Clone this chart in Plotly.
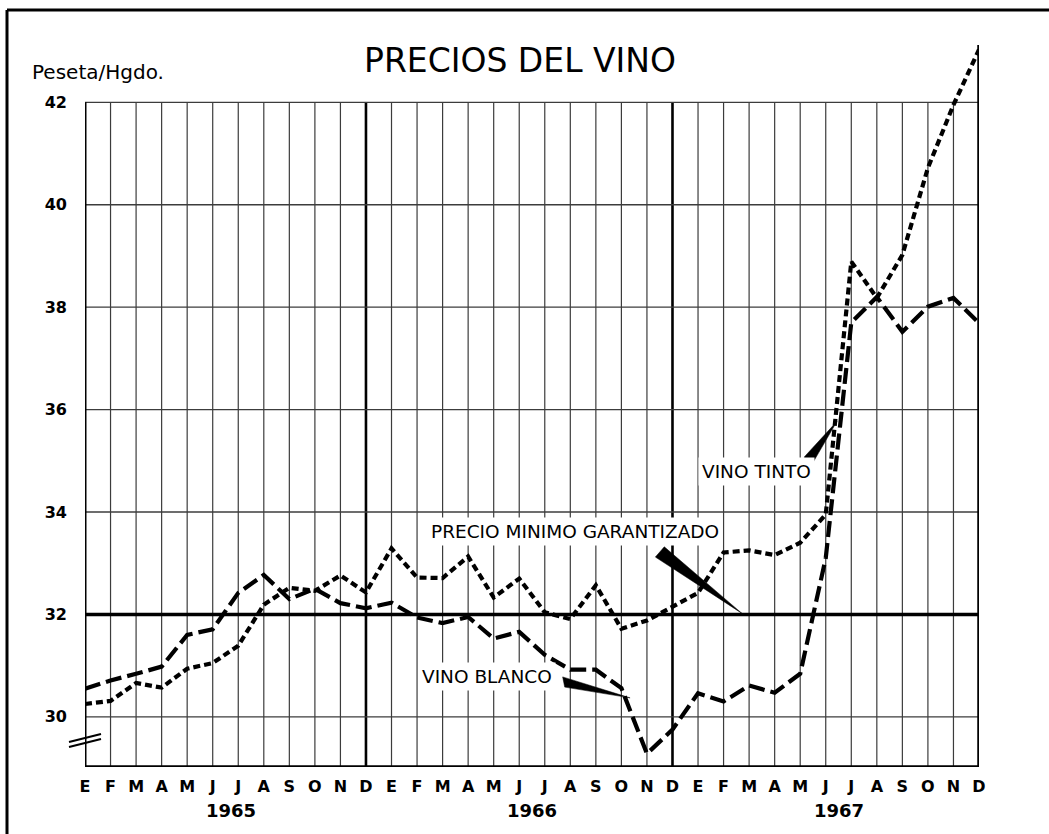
import plotly.graph_objects as go

# ---------------- data ----------------
meses = ["E", "F", "M", "A", "M", "J", "J", "A", "S", "O", "N", "D"] * 3
anios = ["1965", "1966", "1967"]
anio_pos = [5.7, 17.5, 29.5]

vino_blanco = [30.55, 30.71, 30.84, 30.98, 31.60, 31.71, 32.42, 32.77, 32.30, 32.50, 32.22, 32.12,
               32.23, 31.94, 31.83, 31.95, 31.53, 31.66, 31.21, 30.92, 30.92, 30.56, 29.28, 29.75,
               30.46, 30.30, 30.61, 30.47, 30.84, 33.10, 37.70, 38.20, 37.52, 38.01, 38.18, 37.69]
vino_tinto = [30.25, 30.31, 30.66, 30.57, 30.94, 31.05, 31.39, 32.19, 32.52, 32.46, 32.76, 32.43,
              33.29, 32.72, 32.71, 33.13, 32.33, 32.70, 32.04, 31.91, 32.57, 31.72, 31.88, 32.16,
              32.42, 33.21, 33.25, 33.16, 33.40, 33.95, 38.89, 38.18, 39.02, 40.72, 41.95, 43.03]
precio_minimo = 32.0
y_ticks = [30, 32, 34, 36, 38, 40, 42]

# ---------------- layout geometry ----------------
W, H = 1049, 834
L, R, T, B = 85, 70, 45, 67
PW, PH = W - L - R, H - T - B
YMIN, YMAX = 29.02, 43.12
XMAX = len(meses) - 1
FONT = "DejaVu Sans"


def px(xp):
    return (xp - L) / PW


def py(yp):
    return (H - B - yp) / PH


x = list(range(len(meses)))

fig = go.Figure()
fig.add_trace(go.Scatter(x=[0, XMAX], y=[precio_minimo, precio_minimo], mode="lines",
                         line=dict(color="black", width=3.5), cliponaxis=False,
                         name="Precio mínimo garantizado", showlegend=False))
fig.add_trace(go.Scatter(x=x, y=vino_blanco, mode="lines",
                         line=dict(color="black", width=4.2, dash="16px,6px"), cliponaxis=False,
                         name="Vino blanco", showlegend=False))
fig.add_trace(go.Scatter(x=x, y=vino_tinto, mode="lines",
                         line=dict(color="black", width=4.2, dash="7px,4px"), cliponaxis=False,
                         name="Vino tinto", showlegend=False))

shapes = []
grid_col = "#3c3c3c"
for i in range(1, XMAX):
    thick = meses[i] == "D"
    shapes.append(dict(type="line", xref="x", yref="y", x0=i, x1=i, y0=YMIN, y1=max(y_ticks),
                       line=dict(color="black" if thick else grid_col, width=2.6 if thick else 1.2),
                       layer="below"))
for v in y_ticks:
    if v == precio_minimo:
        continue
    shapes.append(dict(type="line", xref="x", yref="y", x0=0, x1=XMAX, y0=v, y1=v,
                       line=dict(color=grid_col, width=1.3), layer="below"))
# plot frame
shapes.append(dict(type="line", xref="x", yref="y", x0=0, x1=0, y0=YMIN, y1=max(y_ticks),
                   line=dict(color="black", width=3)))
shapes.append(dict(type="line", xref="x", yref="y", x0=XMAX, x1=XMAX, y0=YMIN, y1=YMAX,
                   line=dict(color="black", width=3.5)))
shapes.append(dict(type="line", xref="x", yref="y", x0=0, x1=XMAX, y0=YMIN, y1=YMIN,
                   line=dict(color="black", width=3.5)))
# axis break
for dy in (0, 5):
    shapes.append(dict(type="line", xref="paper", yref="paper",
                       x0=px(69), x1=px(101), y0=py(747 - dy), y1=py(739 - dy),
                       line=dict(color="black", width=2)))
# outer frame
shapes.append(dict(type="line", xref="paper", yref="paper", x0=px(7), x1=px(1049),
                   y0=py(10), y1=py(10), line=dict(color="black", width=3)))
shapes.append(dict(type="line", xref="paper", yref="paper", x0=px(7), x1=px(7),
                   y0=py(10), y1=py(834), line=dict(color="black", width=3)))


def wedge(a, b, tip):
    return dict(type="path", xref="x", yref="y",
                path=f"M {a[0]},{a[1]} L {b[0]},{b[1]} L {tip[0]},{tip[1]} Z",
                fillcolor="black", line=dict(color="black", width=0.5))


# label pointers (month index, value)
shapes.append(wedge((28.15, 35.07), (28.47, 34.94), (29.44, 35.77)))
shapes.append(wedge((22.33, 33.12), (22.68, 33.32), (25.72, 32.02)))
shapes.append(wedge((18.70, 30.78), (18.78, 30.58), (21.34, 30.37)))

annotations = [
    dict(text="PRECIOS DEL VINO", xref="paper", yref="paper", x=px(520), y=py(60),
         xanchor="center", yanchor="middle", showarrow=False,
         font=dict(family=FONT, size=33, color="black")),
    dict(text="Peseta/Hgdo.", xref="paper", yref="paper", x=px(30), y=py(72),
         xanchor="left", yanchor="middle", showarrow=False,
         font=dict(family=FONT, size=20, color="black")),
    dict(text="VINO TINTO", xref="x", yref="y", x=26.3, y=34.8, showarrow=False,
         bgcolor="white", borderpad=3, font=dict(family=FONT, size=18.5, color="black")),
    dict(text="PRECIO MINIMO GARANTIZADO", xref="x", yref="y", x=19.2, y=33.62, showarrow=False,
         bgcolor="white", borderpad=3, font=dict(family=FONT, size=18.5, color="black")),
    dict(text="VINO BLANCO", xref="x", yref="y", x=15.75, y=30.78, showarrow=False,
         bgcolor="white", borderpad=3, font=dict(family=FONT, size=18.5, color="black")),
]
for a, p in zip(anios, anio_pos):
    annotations.append(dict(text=a, xref="x", yref="paper", x=p, y=py(810),
                            xanchor="center", yanchor="middle", showarrow=False,
                            font=dict(family=FONT, size=18, color="black", weight="bold")))

fig.update_layout(
    width=W, height=H,
    margin=dict(l=L, r=R, t=T, b=B, pad=0),
    paper_bgcolor="white", plot_bgcolor="white",
    showlegend=False,
    shapes=shapes, annotations=annotations,
    xaxis=dict(range=[0, XMAX], tickvals=x, ticktext=meses, showgrid=False, zeroline=False,
               showline=False, ticks="", ticklabelstandoff=8,
               tickfont=dict(family=FONT, size=16, color="black", weight="bold")),
    yaxis=dict(range=[YMIN, YMAX], tickvals=y_ticks, ticktext=[str(v) for v in y_ticks],
               showgrid=False, zeroline=False, showline=False, ticks="", ticklabelstandoff=17,
               tickfont=dict(family=FONT, size=16, color="black", weight="bold")),
)

fig.write_html("out.html", config={"displayModeBar": False},
               post_script="document.body.style.margin='0';document.body.style.overflow='hidden';")
